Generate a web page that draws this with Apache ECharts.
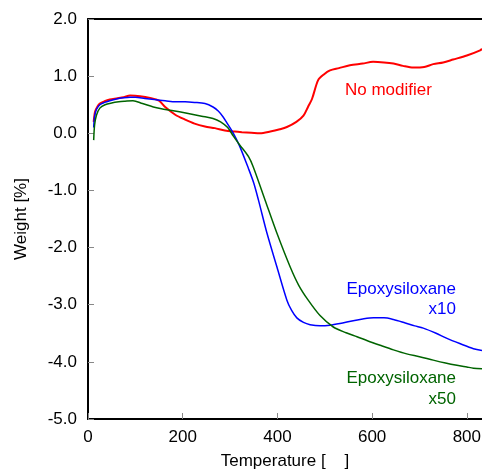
<!DOCTYPE html>
<html>
<head>
<meta charset="utf-8">
<script src="https://cdn.jsdelivr.net/npm/echarts@6/dist/echarts.min.js"></script>
<style>
  html, body { margin: 0; padding: 0; background: #fff; }
  #chart { width: 482px; height: 472px; }
</style>
</head>
<body>
<div id="chart"></div>
<script>
// 温度 (x) 与 重量变化 (y)
var xTicks = [0, 200, 400, 600, 800];

// No modifier
var redT = [12, 15, 20, 25, 35, 46, 60, 75, 89, 110, 131, 150, 163, 185, 205, 225, 247, 268, 289, 310, 325, 345, 363, 385, 405, 420, 440, 455, 465, 473, 486, 498, 511, 530, 553, 580, 602, 625, 645, 665, 687, 710, 729, 750, 771, 800, 828, 832];
var redW = [0.2, 0.38, 0.47, 0.52, 0.56, 0.59, 0.61, 0.63, 0.66, 0.65, 0.62, 0.57, 0.46, 0.32, 0.24, 0.17, 0.12, 0.09, 0.05, 0.03, 0.02, 0.01, 0.0, 0.03, 0.07, 0.11, 0.2, 0.31, 0.47, 0.6, 0.93, 1.03, 1.1, 1.14, 1.19, 1.22, 1.25, 1.24, 1.22, 1.18, 1.15, 1.16, 1.21, 1.24, 1.29, 1.36, 1.45, 1.48];

// Epoxysiloxane x10
var blueT = [12, 14, 18, 25, 35, 46, 60, 75, 89, 100, 120, 140, 163, 185, 205, 225, 247, 264, 275, 285, 295, 307, 320, 339, 350, 360, 378, 399, 420, 430, 441, 455, 469, 490, 511, 532, 560, 580, 603, 625, 645, 670, 690, 708, 735, 758, 785, 814, 832];
var blueW = [0.1, 0.3, 0.42, 0.5, 0.54, 0.57, 0.6, 0.62, 0.63, 0.63, 0.61, 0.59, 0.57, 0.55, 0.55, 0.54, 0.52, 0.46, 0.39, 0.29, 0.16, 0.0, -0.22, -0.62, -0.87, -1.17, -1.75, -2.34, -2.92, -3.1, -3.23, -3.31, -3.35, -3.37, -3.36, -3.33, -3.28, -3.25, -3.23, -3.23, -3.26, -3.32, -3.37, -3.41, -3.5, -3.59, -3.68, -3.77, -3.8];

// Epoxysiloxane x50
var greenT = [12, 14, 18, 25, 36, 50, 65, 78, 95, 115, 138, 155, 177, 209, 240, 264, 280, 295, 307, 320, 339, 349, 374, 399, 427, 445, 465, 490, 518, 545, 568, 590, 617, 645, 673, 700, 729, 755, 779, 800, 814, 832];
var greenW = [-0.12, 0.15, 0.32, 0.44, 0.5, 0.53, 0.55, 0.56, 0.57, 0.52, 0.46, 0.43, 0.4, 0.35, 0.3, 0.26, 0.2, 0.1, -0.05, -0.2, -0.41, -0.59, -1.17, -1.75, -2.34, -2.66, -2.92, -3.19, -3.39, -3.49, -3.56, -3.63, -3.71, -3.79, -3.86, -3.91, -3.97, -4.02, -4.06, -4.09, -4.11, -4.12];

function pairs(xs, ys) {
    var out = [];
    for (var i = 0; i < xs.length; i++) {
        out.push([xs[i], ys[i]]);
    }
    return out;
}

var myChart = echarts.init(document.getElementById('chart'));

var fontFamily = 'Liberation Sans, Arial, sans-serif';

var option = {
    animation: false,
    backgroundColor: '#fff',
    grid: {
        left: 88,
        top: 19,
        right: 0,
        bottom: 53,
        outerBoundsMode: 'none'
    },
    xAxis: [
        {
            type: 'value',
            min: 0,
            max: 832,
            interval: 200,
            name: 'Temperature [    ]',
            nameLocation: 'middle',
            nameGap: 34,
            nameTextStyle: { fontSize: 17, color: '#000', fontFamily: fontFamily },
            axisLine: { show: true, onZero: false, lineStyle: { color: '#000', width: 2 } },
            axisTick: { show: true, inside: true, length: 6, lineStyle: { color: '#888', width: 1 } },
            axisLabel: {
                fontSize: 17,
                color: '#000',
                margin: 10,
                fontFamily: fontFamily,
                showMaxLabel: false,
                formatter: function (v) {
                    return xTicks.indexOf(v) >= 0 ? String(v) : '';
                }
            },
            splitLine: { show: false }
        },
        {
            type: 'value',
            position: 'top',
            min: 0,
            max: 832,
            axisLine: { show: true, onZero: false, lineStyle: { color: '#000', width: 2 } },
            axisTick: { show: false },
            axisLabel: { show: false },
            splitLine: { show: false }
        }
    ],
    yAxis: {
        type: 'value',
        min: -5,
        max: 2,
        interval: 1,
        name: 'Weight [%]',
        nameLocation: 'middle',
        nameGap: 58,
        nameRotate: 90,
        nameTextStyle: { fontSize: 17, color: '#000', fontFamily: fontFamily },
        axisLine: { show: true, onZero: false, lineStyle: { color: '#000', width: 2 } },
        axisTick: { show: true, inside: true, length: 6, lineStyle: { color: '#888', width: 1 } },
        axisLabel: {
            fontSize: 17,
            color: '#000',
            margin: 11,
            fontFamily: fontFamily,
            formatter: function (v) {
                return v.toFixed(1);
            }
        },
        splitLine: { show: false }
    },
    series: [
        {
            name: 'No modifier',
            type: 'line',
            showSymbol: false,
            smooth: 0.3,
            lineStyle: { color: '#ff0000', width: 2 },
            data: pairs(redT, redW)
        },
        {
            name: 'Epoxysiloxane x10',
            type: 'line',
            showSymbol: false,
            smooth: 0.3,
            lineStyle: { color: '#0000ff', width: 1.5 },
            data: pairs(blueT, blueW)
        },
        {
            name: 'Epoxysiloxane x50',
            type: 'line',
            showSymbol: false,
            smooth: 0.3,
            lineStyle: { color: '#006400', width: 1.5 },
            data: pairs(greenT, greenW)
        }
    ],
    graphic: [
        {
            type: 'text', left: 345, top: 82,
            style: { text: 'No modifier', fill: '#ff0000', font: '17px ' + fontFamily }
        },
        {
            type: 'text', right: 26, top: 281,
            style: { text: 'Epoxysiloxane', fill: '#0000ff', font: '17px ' + fontFamily }
        },
        {
            type: 'text', right: 26, top: 301,
            style: { text: 'x10', fill: '#0000ff', font: '17px ' + fontFamily }
        },
        {
            type: 'text', right: 26, top: 370,
            style: { text: 'Epoxysiloxane', fill: '#006400', font: '17px ' + fontFamily }
        },
        {
            type: 'text', right: 26, top: 391,
            style: { text: 'x50', fill: '#006400', font: '17px ' + fontFamily }
        }
    ]
};

myChart.setOption(option);
</script>
</body>
</html>
